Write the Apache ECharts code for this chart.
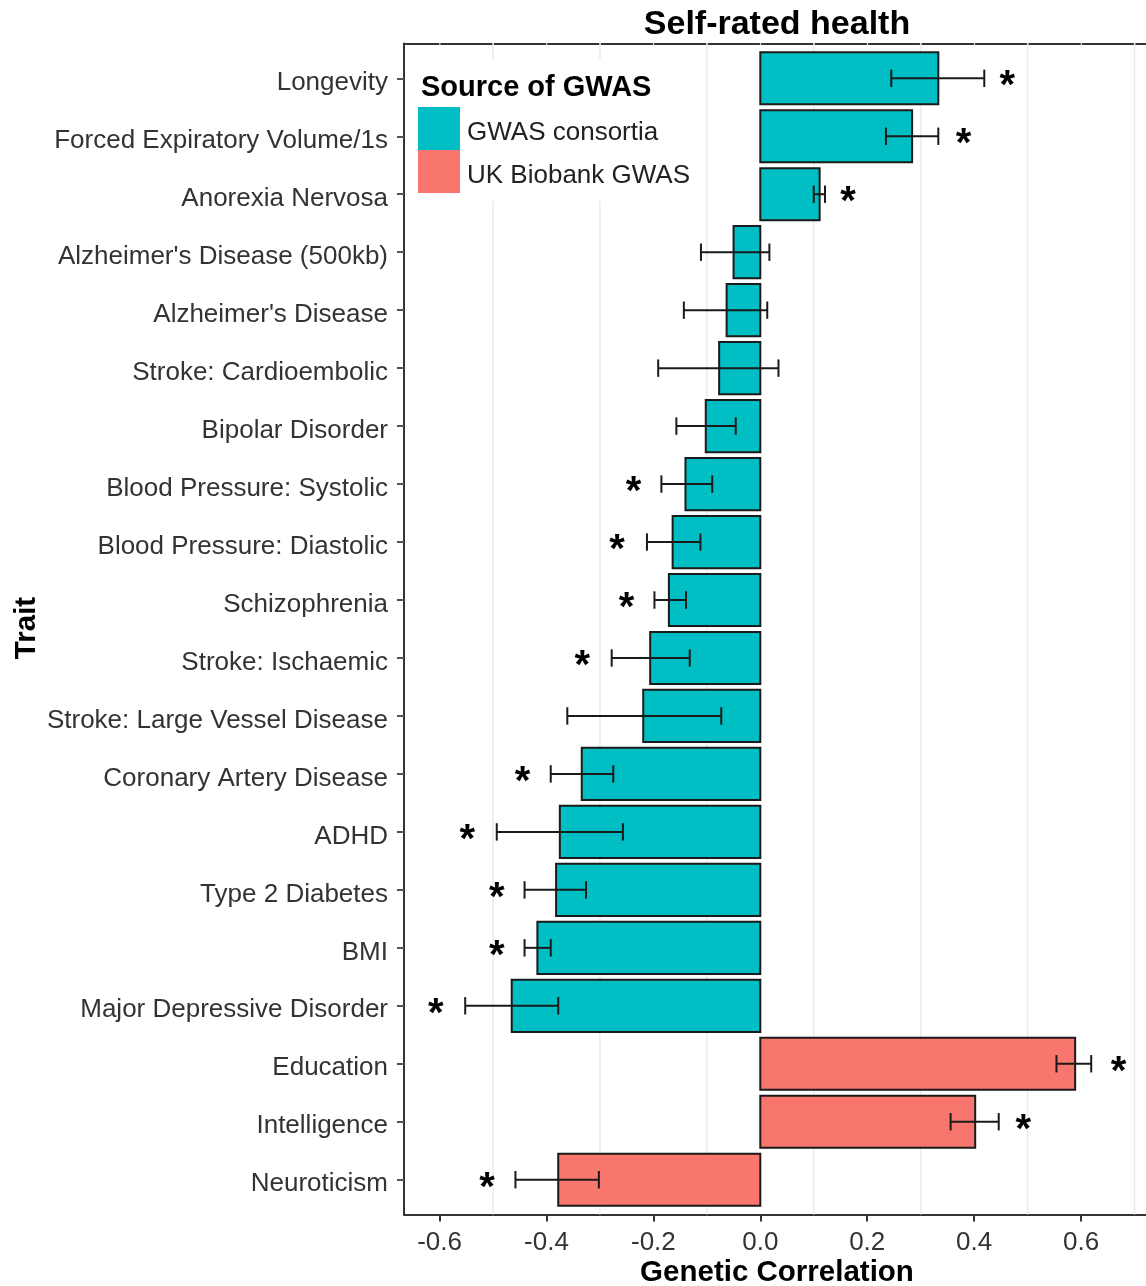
<!DOCTYPE html>
<html>
<head>
<meta charset="utf-8">
<script src="https://cdn.jsdelivr.net/npm/echarts@6/dist/echarts.min.js"></script>
<style>
html,body{margin:0;padding:0;background:#fff;}
#chart{width:1146px;height:1286px;}
</style>
</head>
<body>
<div id="chart"></div>
<script>
// ---- data (top to bottom) ----
const traits = ["Longevity","Forced Expiratory Volume/1s","Anorexia Nervosa","Alzheimer's Disease (500kb)","Alzheimer's Disease","Stroke: Cardioembolic","Bipolar Disorder","Blood Pressure: Systolic","Blood Pressure: Diastolic","Schizophrenia","Stroke: Ischaemic","Stroke: Large Vessel Disease","Coronary Artery Disease","ADHD","Type 2 Diabetes","BMI","Major Depressive Disorder","Education","Intelligence","Neuroticism"];
const sources = ["GWAS consortia","GWAS consortia","GWAS consortia","GWAS consortia","GWAS consortia","GWAS consortia","GWAS consortia","GWAS consortia","GWAS consortia","GWAS consortia","GWAS consortia","GWAS consortia","GWAS consortia","GWAS consortia","GWAS consortia","GWAS consortia","GWAS consortia","UK Biobank GWAS","UK Biobank GWAS","UK Biobank GWAS"];
const rg    = [0.333, 0.284, 0.111, -0.050, -0.063, -0.077, -0.102, -0.140, -0.164, -0.171, -0.206, -0.219, -0.334, -0.375, -0.382, -0.417, -0.465, 0.589, 0.402, -0.378];
const ciLow = [0.245, 0.235, 0.100, -0.111, -0.143, -0.191, -0.157, -0.185, -0.212, -0.198, -0.278, -0.361, -0.392, -0.493, -0.441, -0.441, -0.552, 0.554, 0.356, -0.458];
const ciHigh= [0.419, 0.333, 0.121, 0.017, 0.013, 0.034, -0.046, -0.090, -0.112, -0.139, -0.132, -0.073, -0.275, -0.257, -0.326, -0.392, -0.378, 0.619, 0.446, -0.302];
const starX = [0.462, 0.380, 0.164, null, null, null, null, -0.237, -0.268, -0.250, -0.333, null, -0.445, -0.548, -0.493, -0.493, -0.607, 0.670, 0.492, -0.511];
const xTicks = [-0.6, -0.4, -0.2, 0.0, 0.2, 0.4, 0.6];
const minorGrid = [-0.5, -0.3, -0.1, 0.1, 0.3, 0.5, 0.7];
const sourceNames = ["GWAS consortia", "UK Biobank GWAS"];
const sourceColors = ["#00BFC4", "#F8766D"];

const FONT = "'Liberation Sans', Arial, sans-serif";
const chart = echarts.init(document.getElementById('chart'), null, {renderer: 'canvas'});

const idxs = traits.map((_, i) => i);

function renderBar(params, api) {
  const i = api.value(0), v = api.value(1);
  const p0 = api.coord([0, i - 0.45]);
  const p1 = api.coord([v, i + 0.45]);
  return {
    type: 'rect',
    shape: {x: Math.min(p0[0], p1[0]), y: Math.min(p0[1], p1[1]),
            width: Math.abs(p1[0] - p0[0]), height: Math.abs(p1[1] - p0[1])},
    style: {fill: api.visual('color'), stroke: '#1a1a1a', lineWidth: 2}
  };
}
function renderErr(params, api) {
  const i = api.value(0);
  const a = api.coord([api.value(1), i]);
  const b = api.coord([api.value(2), i]);
  const capTop = api.coord([api.value(1), i - 0.15])[1];
  const capBot = api.coord([api.value(1), i + 0.15])[1];
  const st = {stroke: '#1a1a1a', lineWidth: 2};
  return {type: 'group', children: [
    {type: 'line', shape: {x1: a[0], y1: a[1], x2: b[0], y2: b[1]}, style: st},
    {type: 'line', shape: {x1: a[0], y1: capTop, x2: a[0], y2: capBot}, style: st},
    {type: 'line', shape: {x1: b[0], y1: capTop, x2: b[0], y2: capBot}, style: st}
  ]};
}
function renderStar(params, api) {
  const p = api.coord([api.value(1), api.value(0)]);
  return {type: 'text', x: p[0], y: p[1] + 9,
    style: {text: '*', font: 'bold 40px ' + FONT, align: 'center', verticalAlign: 'middle', fill: '#000'}};
}
function renderGrid(params, api) {
  const top = api.coord([api.value(0), -0.6]);
  const bot = api.coord([api.value(0), 19.6]);
  return {type: 'line', shape: {x1: top[0], y1: top[1], x2: bot[0], y2: bot[1]},
    style: {stroke: '#ebebeb', lineWidth: 1.5}};
}

const barSeries = sourceNames.map((name, s) => ({
  name: name,
  type: 'custom',
  renderItem: renderBar,
  itemStyle: {color: sourceColors[s]},
  encode: {x: 1, y: 0},
  data: idxs.filter(i => sources[i] === name).map(i => [i, rg[i]]),
  z: 3,
  animation: false
}));

const option = {
  backgroundColor: '#fff',
  animation: false,
  grid: {left: 404, right: 0, top: 43.5, bottom: 71.5, containLabel: false},
  xAxis: [{
    type: 'value', min: -0.6665, max: 0.7215, position: 'bottom',
    axisLine: {show: true, onZero: false, lineStyle: {color: '#333', width: 2}},
    axisTick: {show: true, length: 7, customValues: xTicks, lineStyle: {color: '#333', width: 2}},
    axisLabel: {customValues: xTicks, formatter: v => v.toFixed(1), fontFamily: FONT, fontSize: 26, color: '#333', margin: 15},
    splitLine: {show: false}
  }, {
    type: 'value', min: -0.6665, max: 0.7215, position: 'top',
    axisLine: {show: true, onZero: false, lineStyle: {color: '#333', width: 2, type: [50.96, 2.5], dashOffset: 16.4}},
    axisTick: {show: false}, axisLabel: {show: false}, splitLine: {show: false}
  }],
  yAxis: {
    type: 'value', inverse: true, min: -0.6, max: 19.6,
    axisLine: {show: true, onZero: false, lineStyle: {color: '#333', width: 2}},
    axisTick: {show: true, length: 7, customValues: idxs, lineStyle: {color: '#555', width: 2}},
    axisLabel: {customValues: idxs, formatter: v => '{t|' + traits[Math.round(v)] + '}', margin: 16,
      rich: {t: {fontFamily: FONT, fontSize: 26, color: '#333', padding: [9, 0, 0, 0]}}},
    splitLine: {show: false}
  },
  legend: {
    data: sourceNames, orient: 'vertical', left: 410, top: 59,
    padding: [48, 12, 8, 8], itemGap: 0, itemWidth: 42, itemHeight: 43,
    icon: 'rect', backgroundColor: '#fff',
    itemStyle: {borderWidth: 0},
    formatter: name => '{t|' + name + '}',
    textStyle: {rich: {t: {fontFamily: FONT, fontSize: 26, color: '#222', padding: [8, 0, 0, 2]}}},
    selectedMode: false
  },
  graphic: [
    {type: 'text', x: 777, y: 25, z: 10, style: {text: 'Self-rated health', font: 'bold 34px ' + FONT, align: 'center', verticalAlign: 'middle', fill: '#000'}},
    {type: 'text', x: 777, y: 1273, z: 10, style: {text: 'Genetic Correlation', font: 'bold 29.5px ' + FONT, align: 'center', verticalAlign: 'middle', fill: '#000'}},
    {type: 'text', x: 27, y: 628, rotation: Math.PI / 2, z: 10, style: {text: 'Trait', font: 'bold 29.5px ' + FONT, align: 'center', verticalAlign: 'middle', fill: '#000'}},
    {type: 'text', x: 421, y: 88, z: 10, style: {text: 'Source of GWAS', font: 'bold 29px ' + FONT, align: 'left', verticalAlign: 'middle', fill: '#000'}}
  ],
  series: [
    {
      name: 'grid', type: 'custom', renderItem: renderGrid, encode: {x: 0}, z: 1, silent: true,
      data: minorGrid.map(v => [v])
    },
    ...barSeries,
    {
      name: 'err', type: 'custom', renderItem: renderErr, encode: {x: [1, 2], y: 0}, z: 4,
      data: idxs.map(i => [i, ciLow[i], ciHigh[i]])
    },
    {
      name: 'stars', type: 'custom', renderItem: renderStar, encode: {x: 1, y: 0}, z: 5,
      data: idxs.filter(i => starX[i] !== null).map(i => [i, starX[i]])
    }
  ]
};
chart.setOption(option);
</script>
</body>
</html>
